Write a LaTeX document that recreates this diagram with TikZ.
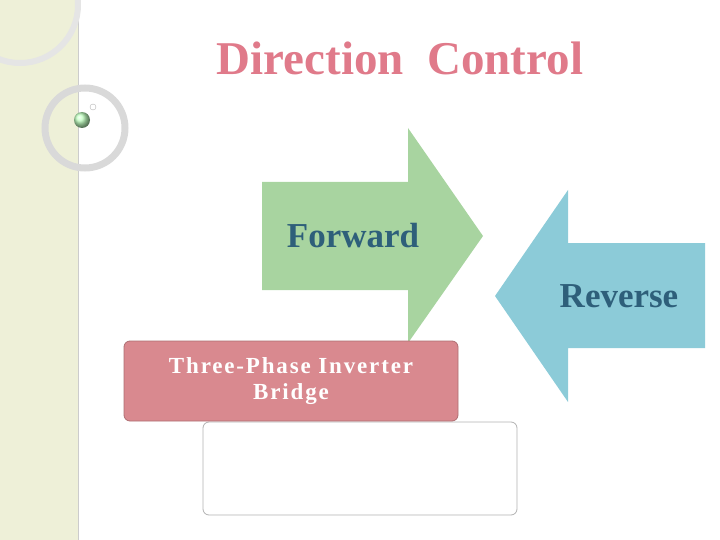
\documentclass[tikz,border=0pt]{standalone}
\usepackage{fontspec}
\setmainfont{Liberation Serif}
\usetikzlibrary{backgrounds}
\definecolor{bandcol}{HTML}{EEF0D8}
\definecolor{titlecol}{HTML}{E07A8A}
\definecolor{fwdcol}{HTML}{A8D4A0}
\definecolor{revcol}{HTML}{8CCBD8}
\definecolor{labelcol}{HTML}{2E5F7A}
\definecolor{bridgecol}{HTML}{D9898F}
\tikzset{
  arrowtext/.style={font=\bfseries\fontsize{35}{40}\selectfont, text=labelcol},
  boxline/.style={rounded corners=6pt, draw=gray!60, line width=0.8pt},
}
\begin{document}
\begin{tikzpicture}[x=1pt, y=-1pt]
      \useasboundingbox (0,0) rectangle (720,540);

      % side band and rings
      \begin{scope}[on background layer]
        \fill[bandcol] (0,0) rectangle (78,540);
        \draw[gray!40, line width=0.8pt] (78,0) -- (78,540);
        \draw[black!10, line width=6pt] (20,5) circle (58);
        \draw[black!15, line width=7pt] (85,128) circle (40);
        \shade[ball color=green!25] (82,120) circle (8);
        \draw[gray!60] (93,107) circle (3);
      \end{scope}

      \node[font=\bfseries\fontsize{47}{52}\selectfont, text=titlecol] (title) at (400,58) {Direction \ Control};

      % forward arrow
      \fill[fwdcol] (262,182) -- (408,182) -- (408,128) -- (483,236)
        -- (408,343) -- (408,290) -- (262,290) -- cycle;
      \node[arrowtext] (fwd) at (353,236) {Forward};

      % reverse arrow
      \fill[revcol] (705,243) -- (568,243) -- (568,190) -- (495,296)
        -- (568,402) -- (568,348) -- (705,348) -- cycle;
      \node[arrowtext] (rev) at (619,296) {Reverse};

      % boxes
      \node[boxline, fill=white, minimum width=314pt, minimum height=93pt] (empty) at (360,468.5) {};
      \node[boxline, draw=bridgecol!80!black, fill=bridgecol, minimum width=334pt, minimum height=80pt,
        align=center, text=white, font=\bfseries\fontsize{23}{26}\selectfont\addfontfeature{LetterSpace=8}] (bridge) at (291,381) {Three-Phase Inverter\\Bridge};
    \end{tikzpicture}
\end{document}
